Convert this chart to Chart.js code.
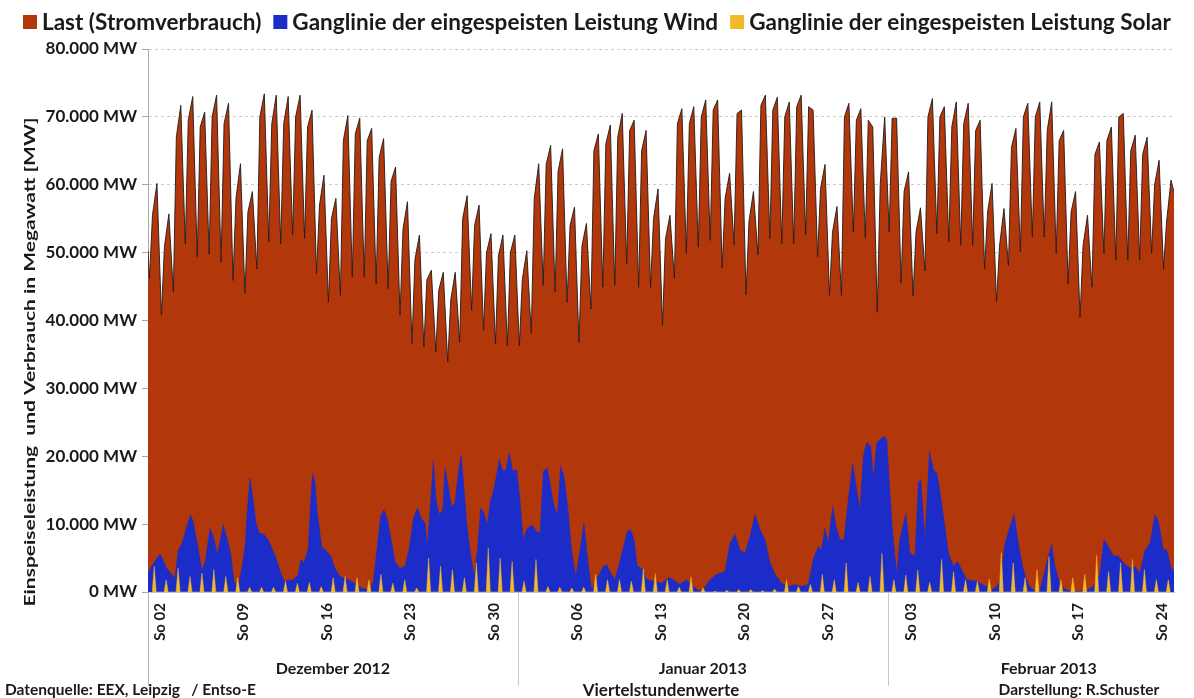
<!DOCTYPE html>
<html lang="de">
<head>
  <meta charset="UTF-8" />
  <title>Last, Wind und Solar Dezember 2012 - Februar 2013</title>
  <script src="https://cdn.jsdelivr.net/npm/chart.js"></script>
  <style>
    * { margin: 0; padding: 0; box-sizing: border-box; }
    body { background: #fff; }
    .wrap { width: 1194px; height: 698px; position: relative; }
  </style>
</head>
<body>
  <div class="wrap">
    <canvas id="chart"></canvas>
  </div>

  <script>
    // time axis is in days since 01.12.2012 00:00
    const sundayDays = [1, 8, 15, 22, 29, 36, 43, 50, 57, 64, 71, 78, 85];
    const sundayLabels = ['So 02', 'So 09', 'So 16', 'So 23', 'So 30', 'So 06', 'So 13',
      'So 20', 'So 27', 'So 03', 'So 10', 'So 17', 'So 24'];
    const monthNames = ['Dezember 2012', 'Januar 2013', 'Februar 2013'];
    const monthStarts = [0, 31, 62];
    const monthCenters = [15.5, 46.5, 75.5];
    const legendLabels = ['Last (Stromverbrauch)', 'Ganglinie der eingespeisten Leistung Wind',
      'Ganglinie der eingespeisten Leistung Solar'];
    const yTitle = 'Einspeiseleistung  und Verbrauch in Megawatt [MW]';

    // Last per day: night low (03h), morning (09h), evening peak (18h), late evening (22h), MW
    const loadHours = [3, 9, 18, 22];
    const loadTrough = [
      46200, 40800, 44200, 51300, 49400, 49800, 48600, 45900, 44000, 47600,
      51600, 51300, 52600, 52100, 46900, 42700, 43700, 46400, 46400, 45400,
      44700, 40800, 36600, 36100, 35400, 33900, 36800, 41500, 38600, 36600,
      36300, 36300, 38100, 45200, 44200, 42700, 36800, 41700, 44900, 45200,
      48400, 44900, 44900, 39300, 46200, 49900, 50800, 51800, 47700, 51200,
      43800, 49700, 52100, 51300, 51300, 52600, 49400, 43700, 43700, 53000,
      52200, 41200, 53100, 45500, 43600, 47300, 52800, 51600, 51100, 51100,
      47600, 42700, 48100, 50100, 52300, 52300, 49900, 45400, 40500, 44900,
      49900, 48900, 48900, 48900, 49900, 47600];
    const loadMorning = [
      55500, 50800, 67000, 69500, 68500, 70000, 69000, 58000, 56000, 70000,
      69000, 69000, 70000, 68500, 57000, 55000, 66500, 67500, 66500, 64000,
      60500, 53500, 49000, 46000, 44500, 43000, 55000, 54000, 50000, 49500,
      50000, 46000, 58000, 63000, 62000, 54000, 51000, 65000, 66000, 67000,
      68000, 65000, 55000, 52000, 69000, 69000, 70000, 71000, 58000, 70500,
      54600, 71700, 71000, 70000, 71500, 71500, 59500, 53000, 70000, 69500,
      69500, 60000, 69800, 59000, 53000, 70000, 70000, 68500, 69000, 68000,
      56000, 51000, 65500, 70000, 70000, 68000, 66500, 56000, 51000, 64500,
      66500, 70000, 65000, 64500, 60000, 54500];
    const loadPeak = [
      60200, 55700, 71700, 73000, 70700, 73200, 72000, 63100, 59000, 73400,
      73200, 73000, 73200, 71000, 61400, 58000, 70200, 69800, 68300, 66800,
      62600, 57500, 52600, 47400, 47100, 47100, 58400, 57000, 52800, 52600,
      52600, 50300, 63100, 65800, 65300, 56700, 54300, 67500, 68800, 70500,
      69500, 68000, 59400, 55500, 71200, 71500, 72500, 72500, 61700, 71000,
      59000, 73200, 72900, 72200, 73200, 71000, 63000, 56800, 72000, 71200,
      68500, 70000, 69800, 61900, 56600, 72700, 71500, 72200, 72000, 69500,
      60200, 56500, 68300, 72000, 72200, 72200, 68000, 59000, 55500, 66300,
      68500, 70500, 67300, 67000, 63600, 60700];
    const loadLate = [
      51500, 50500, 62500, 62400, 61300, 62100, 60300, 54500, 53900, 63600,
      63200, 63800, 63700, 60200, 53000, 51600, 59500, 59300, 58000, 56900,
      52800, 48100, 45200, 42000, 41200, 42500, 50800, 48700, 45500, 45300,
      45300, 44800, 55000, 56100, 55100, 47700, 48600, 57300, 58200, 60600,
      58400, 57600, 50400, 51300, 61600, 62200, 63200, 61300, 57000, 58800,
      54800, 63700, 63200, 62800, 63900, 61300, 54300, 50900, 63500, 62600,
      56200, 62400, 58900, 53700, 52400, 63700, 62500, 62700, 62600, 59600,
      52300, 52700, 60100, 63100, 63200, 62200, 57800, 50700, 50700, 58900,
      59700, 60800, 59000, 59300, 56400, 59500];
    const loadEdges = [50300, 59000];

    const windDay = [
      0.00, 0.31, 0.87, 1.06, 1.56, 2.12, 2.26, 2.54, 2.82, 3.10, 3.38, 3.58, 3.80, 4.08, 4.50,
      4.78, 5.20, 5.48, 5.81, 6.31, 6.65, 6.93, 7.21, 7.49, 7.85, 8.13, 8.33, 8.55, 8.77, 9.05,
      9.33, 9.72, 10.09, 10.37, 10.78, 11.12, 11.40, 12.18, 12.60, 12.80, 13.08, 13.44, 13.64, 13.80, 14.00,
      14.19, 14.56, 14.98, 15.31, 15.67, 16.09, 16.79, 17.35, 17.91, 18.61, 18.89, 19.22, 19.50, 19.78, 20.06,
      20.34, 20.70, 21.12, 21.54, 21.91, 22.24, 22.58, 22.94, 23.22, 23.41, 23.64, 23.92, 24.14, 24.42, 24.70,
      24.90, 25.17, 25.45, 25.73, 26.01, 26.24, 26.43, 26.71, 26.99, 27.33, 27.61, 27.89, 28.16, 28.44, 28.72,
      28.95, 29.17, 29.45, 29.73, 30.01, 30.29, 30.57, 30.90, 31.18, 31.46, 31.74, 32.16, 32.58, 32.86, 33.14,
      33.47, 33.69, 33.98, 34.31, 34.59, 34.87, 35.23, 35.50, 35.87, 36.21, 36.54, 36.82, 37.18, 37.60, 38.16,
      38.45, 38.78, 39.14, 39.70, 40.17, 40.45, 40.74, 41.02, 41.38, 41.80, 42.36, 43.06, 43.62, 44.03, 44.59,
      45.13, 45.70, 46.12, 46.54, 47.10, 47.66, 48.36, 48.78, 49.20, 49.62, 50.04, 50.46, 50.88, 51.30, 51.72,
      52.14, 52.56, 53.11, 53.67, 54.23, 54.78, 55.34, 55.76, 56.18, 56.46, 56.74, 57.02, 57.39, 57.67, 58.00,
      58.34, 58.70, 59.06, 59.40, 59.68, 59.96, 60.24, 60.57, 60.80, 61.08, 61.36, 61.69, 61.92, 62.14, 62.42,
      62.76, 63.03, 63.54, 63.87, 64.29, 64.57, 64.77, 65.13, 65.50, 65.84, 66.12, 66.40, 66.67, 67.09, 67.51,
      67.85, 68.20, 68.62, 69.46, 70.30, 70.72, 71.14, 71.42, 71.84, 72.26, 72.60, 72.95, 73.37, 73.79, 74.21,
      74.77, 75.33, 75.75, 76.02, 76.44, 77.00, 77.84, 78.67, 79.24, 79.80, 80.13, 80.50, 80.92, 81.34, 81.76,
      82.31, 82.73, 83.15, 83.57, 83.99, 84.41, 84.69, 85.11, 85.39, 85.72, 86.00];
    const windMW = [
      2800, 3800, 5300, 5500, 3500, 2300, 2100, 6200, 7000, 8700, 10400, 11400, 10200, 7700, 3300,
      4300, 9400, 8200, 5500, 9900, 7700, 5700, 1600, 600, 3300, 6700, 12100, 16800, 14100, 10200,
      8700, 8500, 7700, 6500, 4800, 2800, 1600, 1800, 2600, 4800, 4300, 6500, 13600, 17500, 16100,
      11600, 6700, 6000, 5300, 3500, 2300, 1800, 1300, 600, 300, 1600, 6700, 11200, 12100, 10700,
      8200, 4500, 3500, 3800, 6500, 10700, 12400, 10700, 10200, 6700, 12100, 19300, 13600, 11400, 12100,
      18300, 15600, 12600, 13100, 17500, 20200, 16600, 10200, 6200, 2300, 6200, 12400, 11600, 9900, 13600,
      14800, 16800, 19500, 17800, 18000, 20500, 17800, 18000, 13600, 7700, 9200, 9900, 8900, 8700, 17800,
      18300, 16100, 13100, 11200, 18500, 17100, 11600, 6200, 2300, 6200, 10200, 5300, 300, 1800, 3800,
      4000, 2800, 1800, 5500, 8900, 9200, 7700, 3800, 3500, 1800, 1600, 1300, 2100, 1800, 1100,
      1800, 800, 250, 350, 1800, 2600, 3000, 7200, 8500, 6200, 5700, 8200, 11400, 9200, 7700,
      4300, 2600, 1300, 800, 1100, 800, 1100, 4800, 6700, 6200, 9400, 7200, 12600, 9700, 7700,
      7700, 13600, 19000, 15100, 12100, 20000, 22000, 21500, 16800, 22000, 22500, 22900, 22500, 16100, 8700,
      2600, 8000, 11600, 5700, 5300, 16100, 16600, 7700, 20700, 18000, 17500, 14600, 11200, 5700, 3800,
      4500, 3300, 1800, 1600, 800, 300, 800, 1600, 7200, 9700, 11400, 7200, 3300, 1100, 300,
      300, 4300, 7000, 3800, 1100, 300, 100, 300, 800, 2800, 7700, 6700, 5300, 5300, 4300,
      3500, 3800, 2800, 6200, 7200, 11400, 10400, 6200, 6200, 3800, 3000];

    // Solar: midday maximum per day, MW (zero at night)
    const solarHours = [8.5, 12.5, 16.5];
    const solarNoon = [
      3800, 1800, 3500, 2300, 2800, 3300, 2300, 2100, 700, 700,
      700, 1600, 1300, 1400, 800, 2100, 2300, 2100, 1800, 2600,
      1300, 1800, 600, 5000, 3800, 3300, 2100, 4300, 6500, 5000,
      4500, 1600, 4800, 800, 700, 600, 700, 2600, 1800, 1800,
      1600, 3400, 2700, 1800, 700, 2200, 600, 100, 250, 350,
      350, 200, 450, 1800, 800, 1100, 2600, 1800, 4300, 1400,
      2300, 5700, 1800, 2500, 3200, 1400, 4800, 3000, 1800, 1600,
      1900, 5800, 4300, 2100, 3300, 5200, 1800, 2100, 2600, 5400,
      3000, 4300, 4800, 3300, 1800, 1800];

    const dayCount = loadTrough.length;

    const loadPoints = [{ x: 0, y: loadEdges[0] }];
    for (let d = 0; d < dayCount; d++) {
      [loadTrough, loadMorning, loadPeak, loadLate].forEach((arr, k) => {
        loadPoints.push({ x: d + loadHours[k] / 24, y: arr[d] });
      });
    }
    loadPoints.push({ x: dayCount, y: loadEdges[1] });

    const windPoints = windDay.map((t, i) => ({ x: t, y: windMW[i] }));

    const solarPoints = [];
    solarNoon.forEach((v, d) => {
      solarPoints.push({ x: d + solarHours[0] / 24, y: 0 });
      solarPoints.push({ x: d + solarHours[1] / 24, y: v });
      solarPoints.push({ x: d + solarHours[2] / 24, y: 0 });
    });

    const colors = { load: '#b2370b', wind: '#1b2cc8', solar: '#f2b92a', text: '#1a1a1a' };
    const FONT = 'Lato, "Open Sans", sans-serif';

    function fmtMW(v) {
      return String(v).replace(/\B(?=(\d{3})+(?!\d))/g, '.') + ' MW';
    }

    // legend, axis title, month labels and footer notes
    const decorations = {
      id: 'decorations',
      afterDraw(chart) {
        const { ctx, chartArea: a, scales: { x } } = chart;
        ctx.save();
        ctx.fillStyle = colors.text;
        ctx.textBaseline = 'middle';

        // legend, fitted to its width in the original
        const legendColors = [colors.load, colors.wind, colors.solar];
        const box = 14, boxGap = 5, itemGap = 12, legendWidth = 1148;
        ctx.font = 'bold 20px ' + FONT;
        const raw = legendLabels.map(t => ctx.measureText(t).width);
        const fixed = legendLabels.length * (box + boxGap) + (legendLabels.length - 1) * itemGap;
        const size = 20 * (legendWidth - fixed) / raw.reduce((s, w) => s + w, 0);
        ctx.font = 'bold ' + size.toFixed(2) + 'px ' + FONT;
        let lx = chart.width / 2 - legendWidth / 2;
        const ly = 22;
        legendLabels.forEach((t, i) => {
          ctx.fillStyle = legendColors[i];
          ctx.fillRect(lx, ly - box / 2, box, box);
          lx += box + boxGap;
          ctx.fillStyle = colors.text;
          ctx.textAlign = 'left';
          ctx.fillText(t, lx, ly + 1);
          lx += ctx.measureText(t).width + itemGap;
        });

        // y axis title, stretched to the length it has in the original
        ctx.save();
        ctx.translate(30, 362);
        ctx.rotate(-Math.PI / 2);
        ctx.font = 'bold 16px ' + FONT;
        ctx.scale(489 / ctx.measureText(yTitle).width, 1);
        ctx.textAlign = 'center';
        ctx.fillText(yTitle, 0, 0);
        ctx.restore();

        // month separators below the axis
        ctx.lineWidth = 1;
        monthStarts.forEach((d, i) => {
          const px = Math.round(x.getPixelForValue(d)) + 0.5;
          ctx.strokeStyle = i === 0 ? '#b4b4b4' : '#c8c8c8';
          ctx.beginPath();
          ctx.moveTo(px, a.bottom);
          ctx.lineTo(px, 686);
          ctx.stroke();
        });

        ctx.font = 'bold 16px ' + FONT;
        ctx.textAlign = 'center';
        monthNames.forEach((m, i) => {
          ctx.fillText(m, x.getPixelForValue(monthCenters[i]), 669);
        });

        // footer
        ctx.font = 'bold 15.5px ' + FONT;
        ctx.textAlign = 'left';
        ctx.fillText('Datenquelle: EEX, Leipzig   / Entso-E', 5, 690);
        ctx.textAlign = 'center';
        ctx.fillText('Darstellung: R.Schuster', 1079, 690);
        ctx.font = 'bold 17px ' + FONT;
        ctx.fillText('Viertelstundenwerte', 661, 691);
        ctx.restore();
      }
    };

    Chart.defaults.font.family = FONT;

    new Chart(document.getElementById('chart'), {
      type: 'line',
      data: {
        datasets: [
          {
            label: legendLabels[0],
            data: loadPoints,
            backgroundColor: colors.load,
            borderColor: 'rgba(35,25,25,0.9)',
            borderWidth: 1,
            fill: 'origin',
            order: 3
          },
          {
            label: legendLabels[1],
            data: windPoints,
            backgroundColor: colors.wind,
            borderColor: colors.wind,
            borderWidth: 0.5,
            fill: 'origin',
            order: 2
          },
          {
            label: legendLabels[2],
            data: solarPoints,
            backgroundColor: colors.solar,
            borderColor: colors.solar,
            borderWidth: 0.5,
            fill: 'origin',
            order: 1
          }
        ]
      },
      options: {
        responsive: true,
        maintainAspectRatio: false,
        animation: false,
        events: [],
        layout: { padding: { top: 49, right: 20, bottom: 0, left: 0 } },
        elements: { point: { radius: 0 }, line: { tension: 0 } },
        plugins: {
          legend: { display: false },
          tooltip: { enabled: false }
        },
        scales: {
          x: {
            type: 'linear',
            min: 0,
            max: dayCount,
            afterFit: s => { s.height = 106; },
            afterBuildTicks: s => { s.ticks = sundayDays.map(v => ({ value: v })); },
            grid: { display: false, drawTicks: false },
            border: { display: true, color: '#c4c4c4' },
            ticks: {
              autoSkip: false,
              minRotation: 90,
              maxRotation: 90,
              padding: 11,
              color: colors.text,
              font: { size: 15, weight: 'bold' },
              callback: (v, i) => sundayLabels[i]
            }
          },
          y: {
            min: 0,
            max: 80000,
            afterFit: s => { s.width = 148; },
            grid: { color: '#cdcdcd', tickColor: '#a8a8a8', tickLength: 6 },
            border: { display: true, color: '#a8a8a8', dash: [3, 3] },
            ticks: {
              stepSize: 10000,
              padding: 5,
              color: colors.text,
              font: { size: 17, weight: 'bold' },
              callback: v => fmtMW(v)
            }
          }
        }
      },
      plugins: [decorations]
    });
  </script>
</body>
</html>
